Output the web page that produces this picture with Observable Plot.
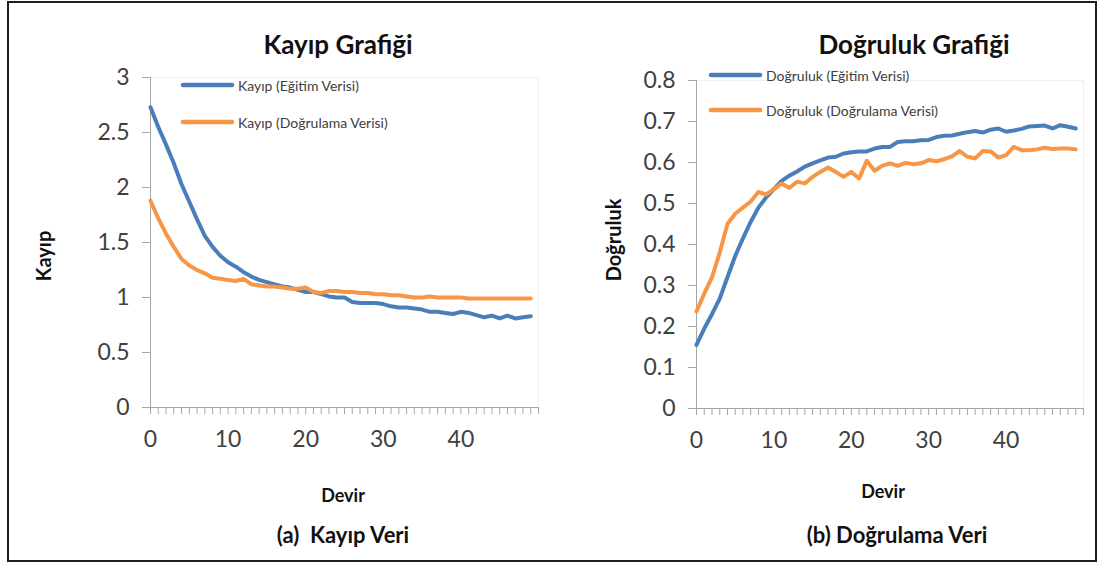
<!DOCTYPE html>
<html>
<head>
<meta charset="utf-8">
<script src="https://cdn.jsdelivr.net/npm/d3@7"></script>
<script src="https://cdn.jsdelivr.net/npm/@observablehq/plot@0.6"></script>
<style>
  html, body { margin: 0; padding: 0; background: #fff; }
  #page { position: relative; width: 1101px; height: 564px; overflow: hidden; font-family: Lato, "Open Sans", sans-serif; }
  #frame { position: absolute; left: 7px; top: 1px; width: 1086px; height: 557px; border: 2px solid #1e1e1e; }
  .chart { position: absolute; top: 0; }
  .txt { position: absolute; transform: translate(-50%, -50%); white-space: pre; line-height: 1; }
  .title { font-weight: 700; font-size: 26px; color: #111; }
  .axlabel { font-weight: 700; font-size: 18px; color: #111; }
  .ylabel { font-weight: 700; font-size: 20px; color: #111; }
  .caption { font-weight: 700; font-size: 22px; color: #111; }
  .legend { position: absolute; display: flex; align-items: center; font-size: 14px; color: #404040; white-space: nowrap; }
  .legend svg { margin-right: 3px; }
</style>
</head>
<body>
<div id="page">
  <div id="frame"></div>
</div>
<script>
// Epochs and per-epoch metrics
const epochs = d3.range(50);

const lossTrain = [2.73, 2.55, 2.39, 2.22, 2.03, 1.87, 1.71, 1.56, 1.46, 1.38,
                   1.32, 1.28, 1.23, 1.19, 1.16, 1.14, 1.12, 1.10, 1.09, 1.07,
                   1.05, 1.05, 1.03, 1.01, 1.00, 1.00, 0.96, 0.95, 0.95, 0.95,
                   0.94, 0.92, 0.91, 0.91, 0.90, 0.89, 0.87, 0.87, 0.86, 0.85,
                   0.87, 0.86, 0.84, 0.82, 0.835, 0.81, 0.835, 0.81, 0.82, 0.83];

const lossVal = [1.88, 1.72, 1.58, 1.46, 1.35, 1.29, 1.25, 1.22, 1.18, 1.17,
                 1.16, 1.15, 1.17, 1.12, 1.11, 1.10, 1.10, 1.09, 1.08, 1.08,
                 1.09, 1.05, 1.04, 1.06, 1.06, 1.05, 1.05, 1.04, 1.04, 1.03,
                 1.03, 1.02, 1.02, 1.01, 1.00, 1.00, 1.01, 1.00, 1.00, 1.00,
                 1.00, 0.99, 0.99, 0.99, 0.99, 0.99, 0.99, 0.99, 0.99, 0.99];

const accTrain = [0.155, 0.195, 0.230, 0.268, 0.320, 0.372, 0.415, 0.455, 0.490, 0.515,
                  0.535, 0.555, 0.568, 0.578, 0.590, 0.598, 0.605, 0.612, 0.614, 0.622,
                  0.625, 0.627, 0.627, 0.634, 0.638, 0.638, 0.650, 0.652, 0.652, 0.654,
                  0.655, 0.662, 0.665, 0.666, 0.670, 0.674, 0.677, 0.673, 0.680, 0.683,
                  0.675, 0.678, 0.682, 0.688, 0.689, 0.690, 0.683, 0.691, 0.687, 0.683];

const accVal = [0.237, 0.280, 0.320, 0.380, 0.450, 0.475, 0.490, 0.505, 0.528, 0.522,
                0.535, 0.549, 0.538, 0.553, 0.549, 0.565, 0.577, 0.588, 0.577, 0.565,
                0.577, 0.561, 0.604, 0.580, 0.592, 0.598, 0.592, 0.599, 0.596, 0.598,
                0.606, 0.603, 0.608, 0.615, 0.628, 0.614, 0.610, 0.628, 0.627, 0.612,
                0.618, 0.638, 0.630, 0.630, 0.632, 0.636, 0.633, 0.634, 0.634, 0.632];

const xTickLabels = [0, 10, 20, 30, 40];
const lossTicks = [0, 0.5, 1, 1.5, 2, 2.5, 3];
const accTicks = [0, 0.1, 0.2, 0.3, 0.4, 0.5, 0.6, 0.7, 0.8];

const lossSeries = ["Kayıp (Eğitim Verisi)", "Kayıp (Doğrulama Verisi)"];
const accSeries = ["Doğruluk (Eğitim Verisi)", "Doğruluk (Doğrulama Verisi)"];
const seriesColors = ["#4a7ebb", "#f79646"];
const axisGray = "#a6a6a6";

function rows(names, a, b) {
  return [
    ...epochs.map((e, i) => ({epoch: e, value: a[i], series: names[0]})),
    ...epochs.map((e, i) => ({epoch: e, value: b[i], series: names[1]}))
  ];
}

function chart({data, names, yDomain, yTicks, width, height, mTop, mLeft, mRight, mBottom}) {
  return Plot.plot({
    width, height,
    marginTop: mTop, marginLeft: mLeft, marginRight: mRight, marginBottom: mBottom,
    style: {fontFamily: "Lato, 'Open Sans', sans-serif", color: "#404040", background: "transparent", overflow: "visible"},
    x: {domain: [0, 50], axis: null},
    y: {domain: yDomain, axis: null},
    color: {domain: names, range: seriesColors},
    marks: [
      Plot.frame({stroke: "#f0f0f0"}),
      Plot.axisY({ticks: yTicks, tickSize: 8, tickPadding: 13, fontSize: 23, stroke: axisGray, tickFormat: d => String(d), label: null}),
      Plot.axisX({ticks: d3.range(0, 51), tickSize: 7, stroke: axisGray, tickFormat: () => "", label: null}),
      Plot.axisX({ticks: xTickLabels, tickSize: 0, tickPadding: 23, fontSize: 23, tickFormat: d => String(d), label: null}),
      Plot.ruleX([0], {stroke: axisGray}),
      Plot.ruleY([0], {stroke: axisGray}),
      Plot.line(data, {x: "epoch", y: "value", z: "series", stroke: "series", strokeWidth: 4, strokeLinejoin: "round", strokeLinecap: "round"})
    ]
  });
}

const page = document.getElementById("page");

function place(el, left) {
  el.classList.add("chart");
  el.style.left = left + "px";
  page.appendChild(el);
}

place(chart({data: rows(lossSeries, lossTrain, lossVal), names: lossSeries, yDomain: [0, 3], yTicks: lossTicks,
             width: 545, height: 460, mTop: 77, mLeft: 150, mRight: 7, mBottom: 53}), 0);
place(chart({data: rows(accSeries, accTrain, accVal), names: accSeries, yDomain: [0, 0.8], yTicks: accTicks,
             width: 545, height: 460, mTop: 80, mLeft: 146, mRight: 12, mBottom: 52}), 550);

function text(cls, str, x, y, rotate) {
  const d = document.createElement("div");
  d.className = "txt " + cls;
  d.textContent = str;
  d.style.left = x + "px";
  d.style.top = y + "px";
  if (rotate) d.style.transform = "translate(-50%, -50%) rotate(-90deg)";
  page.appendChild(d);
}

function legendItem(label, color, x, y) {
  const d = document.createElement("div");
  d.className = "legend";
  d.style.left = x + "px";
  d.style.top = (y - 8) + "px";
  d.style.height = "16px";
  const svg = d3.create("svg").attr("width", 55).attr("height", 8);
  svg.append("line").attr("x1", 3).attr("x2", 52).attr("y1", 4).attr("y2", 4)
    .attr("stroke", color).attr("stroke-width", 4.5).attr("stroke-linecap", "round");
  d.appendChild(svg.node());
  const s = document.createElement("span");
  s.textContent = label;
  d.appendChild(s);
  page.appendChild(d);
}

// Titles
text("title", "Kayıp Grafiği", 338, 44);
text("title", "Doğruluk Grafiği", 914, 44);

// Axis titles
text("ylabel", "Kayıp", 43, 256, true);
text("ylabel", "Doğruluk", 613, 240, true);
text("axlabel", "Devir", 343, 495);
text("axlabel", "Devir", 883, 491);

// Captions
text("caption", "(a)  Kayıp Veri", 343, 535);
text("caption", "(b) Doğrulama Veri", 897, 535);

// Legends
legendItem(lossSeries[0], seriesColors[0], 180, 85);
legendItem(lossSeries[1], seriesColors[1], 180, 122);
legendItem(accSeries[0], seriesColors[0], 708, 75);
legendItem(accSeries[1], seriesColors[1], 708, 110);
</script>
</body>
</html>
